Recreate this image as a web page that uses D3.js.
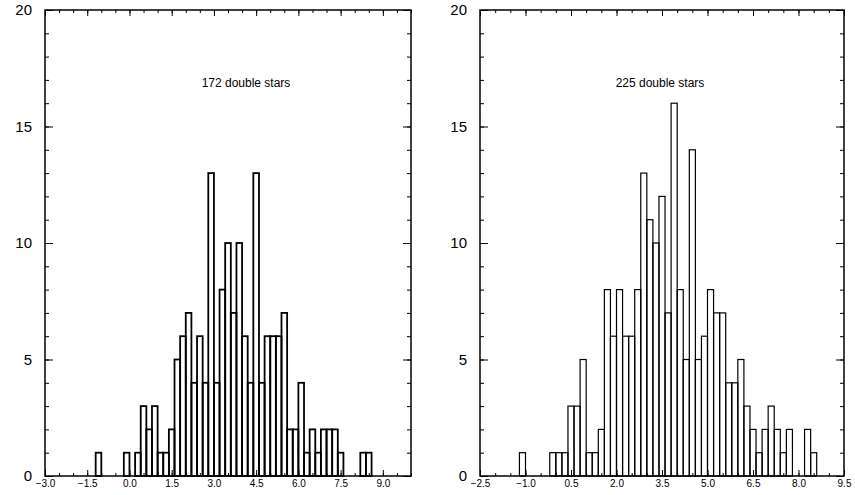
<!DOCTYPE html>
<html>
<head>
<meta charset="utf-8">
<script src="https://cdn.jsdelivr.net/npm/d3@7"></script>
<style>
  body { margin:0; background:#fff; }
  svg { display:block; font-family: "Liberation Sans", Arial, Helvetica, sans-serif; }
</style>
</head>
<body>
<svg id="drawing_region"></svg>
<script>
// histogram bins: 0.2 wide, first bin starts at -1.2
const binStart = -1.2;
const binWidth = 0.2;

const leftCounts = [1,0,0,0,0,1,0,1,3,2,3,1,1,2,5,6,7,4,6,4,13,4,8,10,7,10,6,4,13,4,6,6,6,7,2,2,4,1,2,1,2,2,2,1,0,0,0,1,1];
const rightCounts = [1,0,0,0,0,1,1,1,3,3,5,1,1,2,8,6,8,6,6,8,13,11,10,12,7,16,8,5,14,5,6,8,7,7,4,4,5,3,2,1,2,3,2,1,2,0,0,2,1];

const leftTicks = [-3.0, -1.5, 0.0, 1.5, 3.0, 4.5, 6.0, 7.5, 9.0];
const rightTicks = [-2.5, -1.0, 0.5, 2.0, 3.5, 5.0, 6.5, 8.0, 9.5];
const yTicks = [0, 5, 10, 15, 20];

const leftTitle = "172 double stars";
const rightTitle = "225 double stars";

class Histogram {
    constructor( config, counts ) {
        this.config = config;
        this.counts = counts;
        this.init();
    }

    init() {
        let self = this;
        let c = self.config;

        self.chart = d3.select( c.parent ).append('g');

        self.xscale = d3.scaleLinear()
            .domain( c.xdomain )
            .range( [c.left, c.right] );
        self.yscale = d3.scaleLinear()
            .domain( [0, 20] )
            .range( [c.bottom, c.top] );

        self.data = self.counts.map( (v, i) => ({ x0: binStart + i*binWidth, x1: binStart + (i+1)*binWidth, n: v }) )
            .filter( d => d.n > 0 );
    }

    render() {
        let self = this;
        let c = self.config;
        let xfmt = d => d3.format('.1f')(d);

        // bars
        self.chart.selectAll('rect.bar')
            .data( self.data )
            .enter()
            .append('rect')
            .attr('class', 'bar')
            .attr('x', d => self.xscale(d.x0))
            .attr('y', d => self.yscale(d.n))
            .attr('width', d => self.xscale(d.x1) - self.xscale(d.x0))
            .attr('height', d => self.yscale(0) - self.yscale(d.n))
            .attr('fill', 'none')
            .attr('stroke', 'black')
            .attr('stroke-width', c.barStroke);

        let minorX = d3.range(c.xdomain[0], c.xdomain[1] + 0.01, 0.5);
        let minorY = d3.range(0, 21, 1);

        // x axes, ticks pointing inward
        self.chart.append('g')
            .attr('transform', `translate(0,${c.bottom})`)
            .call( d3.axisBottom(self.xscale).tickValues(minorX).tickSize(-3).tickFormat('') );
        self.chart.append('g')
            .attr('class', 'xlab')
            .attr('transform', `translate(0,${c.bottom})`)
            .call( d3.axisBottom(self.xscale).tickValues(c.xticks).tickSize(-6).tickPadding(4).tickFormat(xfmt) );
        self.chart.append('g')
            .attr('transform', `translate(0,${c.top})`)
            .call( d3.axisTop(self.xscale).tickValues(minorX).tickSize(-3).tickFormat('') );
        self.chart.append('g')
            .attr('transform', `translate(0,${c.top})`)
            .call( d3.axisTop(self.xscale).tickValues(c.xticks).tickSize(-6).tickFormat('') );

        // y axes
        self.chart.append('g')
            .attr('transform', `translate(${c.left},0)`)
            .call( d3.axisLeft(self.yscale).tickValues(minorY).tickSize(-4).tickFormat('') );
        self.chart.append('g')
            .attr('class', 'ylab')
            .attr('transform', `translate(${c.left},0)`)
            .call( d3.axisLeft(self.yscale).tickValues(yTicks).tickSize(-8).tickPadding(13).tickFormat(d3.format('d')) );
        self.chart.append('g')
            .attr('transform', `translate(${c.right},0)`)
            .call( d3.axisRight(self.yscale).tickValues(minorY).tickSize(-4).tickFormat('') );
        self.chart.append('g')
            .attr('transform', `translate(${c.right},0)`)
            .call( d3.axisRight(self.yscale).tickValues(yTicks).tickSize(-8).tickFormat('') );

        self.chart.selectAll('.domain').remove();
        self.chart.selectAll('.tick line').attr('stroke', 'black').attr('stroke-width', 1);
        self.chart.selectAll('.xlab text').attr('font-size', '10px').attr('fill', 'black');
        self.chart.selectAll('.ylab text').attr('font-size', '15px').attr('fill', 'black');

        // frame
        self.chart.append('rect')
            .attr('x', c.left)
            .attr('y', c.top)
            .attr('width', c.right - c.left)
            .attr('height', c.bottom - c.top)
            .attr('fill', 'none')
            .attr('stroke', 'black')
            .attr('stroke-width', 1.5);

        self.chart.append('text')
            .attr('x', c.titleX)
            .attr('y', c.titleY)
            .attr('text-anchor', 'middle')
            .attr('font-size', '12px')
            .attr('fill', 'black')
            .text(c.title);
    }
}

d3.select('#drawing_region')
    .attr('width', 855)
    .attr('height', 495);

const left_hist = new Histogram({
    parent: '#drawing_region',
    left: 45, right: 411, top: 10, bottom: 476,
    xdomain: [-3, 10],
    xticks: leftTicks,
    barStroke: 1.8,
    title: leftTitle, titleX: 246, titleY: 87
}, leftCounts);
left_hist.render();

const right_hist = new Histogram({
    parent: '#drawing_region',
    left: 480, right: 844, top: 10, bottom: 476,
    xdomain: [-2.5, 9.5],
    xticks: rightTicks,
    barStroke: 1.2,
    title: rightTitle, titleX: 660, titleY: 87
}, rightCounts);
right_hist.render();
</script>
</body>
</html>
